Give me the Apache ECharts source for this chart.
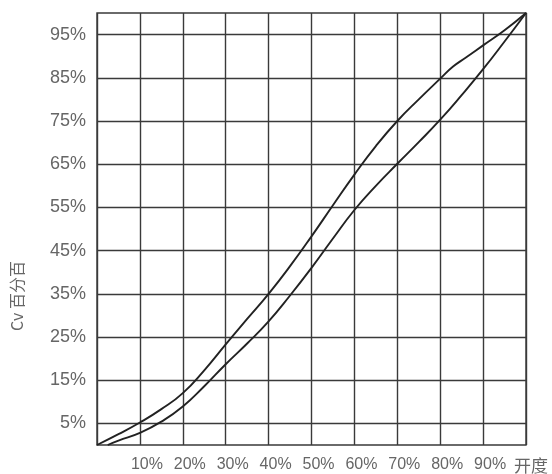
<!DOCTYPE html>
<html>
<head>
<meta charset="utf-8">
<script src="https://cdn.jsdelivr.net/npm/echarts@6/dist/echarts.min.js"></script>
<style>html,body{margin:0;padding:0;background:#fff}#c{width:552px;height:474px}</style>
</head>
<body>
<div id="c"></div>
<script>
// Opening (%) -> Cv (%)
var upperX = [0, 5, 10, 15, 20, 25, 30, 35, 40, 45, 50, 55, 60, 65, 70, 75, 80, 83, 86, 90, 95, 100];
var upperY = [0, 2.5, 5.2, 8.3, 12, 17.3, 23.3, 29.2, 35, 41.4, 48.3, 55.5, 62.6, 69.2, 75, 80, 84.8, 87.6, 89.7, 92.5, 96, 100];
var lowerX = [2.5, 5, 10, 15, 20, 25, 30, 35, 40, 45, 50, 55, 60, 65, 70, 75, 80, 85, 90, 95, 100];
var lowerY = [0, 1, 2.8, 5.4, 8.9, 13.6, 18.7, 23.5, 28.6, 34.6, 41, 47.8, 54.4, 60, 65.1, 70.1, 75.3, 81, 87, 93.4, 100];
var xTickLabels = [10, 20, 30, 40, 50, 60, 70, 80, 90];
var yTickLabels = [5, 15, 25, 35, 45, 55, 65, 75, 85, 95];
var xName = '开度';
var yName = 'Cv 百分百';

function pairs(xs, ys) { return xs.map(function (x, i) { return [x, ys[i]]; }); }

var gridColor = '#3a3a3a';
var chart = echarts.init(document.getElementById('c'));
chart.setOption({
  animation: false,
  backgroundColor: '#fff',
  grid: { left: 97, right: 26, top: 13, bottom: 29, show: true, borderColor: gridColor, borderWidth: 1.4, containLabel: false },
  xAxis: {
    type: 'value', min: 0, max: 100, interval: 10,
    axisLine: { show: false }, axisTick: { show: false },
    splitLine: { show: true, lineStyle: { color: gridColor, width: 1.4 } },
    axisLabel: {
      margin: 12, color: '#666', fontSize: 16, fontFamily: 'Liberation Sans',
      padding: [0, 0, 0, 14],
      formatter: function (v) { return xTickLabels.indexOf(v) >= 0 ? v + '%' : ''; }
    },
    name: xName, nameLocation: 'end', nameGap: -12,
    nameTextStyle: { color: '#666', fontSize: 17, fontFamily: 'Noto Sans CJK SC', verticalAlign: 'top', padding: [12, 0, 0, 0] }
  },
  yAxis: {
    type: 'value', min: 0, max: 100, interval: 5,
    axisLine: { show: false }, axisTick: { show: false },
    splitLine: { show: true, lineStyle: { color: ['rgba(0,0,0,0)', gridColor], width: 1.4 } },
    axisLabel: {
      margin: 11, color: '#666', fontSize: 18, fontFamily: 'Liberation Sans',
      formatter: function (v) { return yTickLabels.indexOf(v) >= 0 ? v + '%' : ''; }
    },
    name: yName, nameLocation: 'middle', nameGap: 72, nameRotate: 90,
    nameTextStyle: { color: '#666', fontSize: 16, fontFamily: 'Noto Sans CJK SC', padding: [0, 134, 0, 0] }
  },
  series: [
    { type: 'line', data: pairs(upperX, upperY), smooth: 0.5, symbol: 'none', lineStyle: { color: '#222', width: 1.9 } },
    { type: 'line', data: pairs(lowerX, lowerY), smooth: 0.5, symbol: 'none', lineStyle: { color: '#222', width: 1.9 } }
  ]
});
</script>
</body>
</html>
